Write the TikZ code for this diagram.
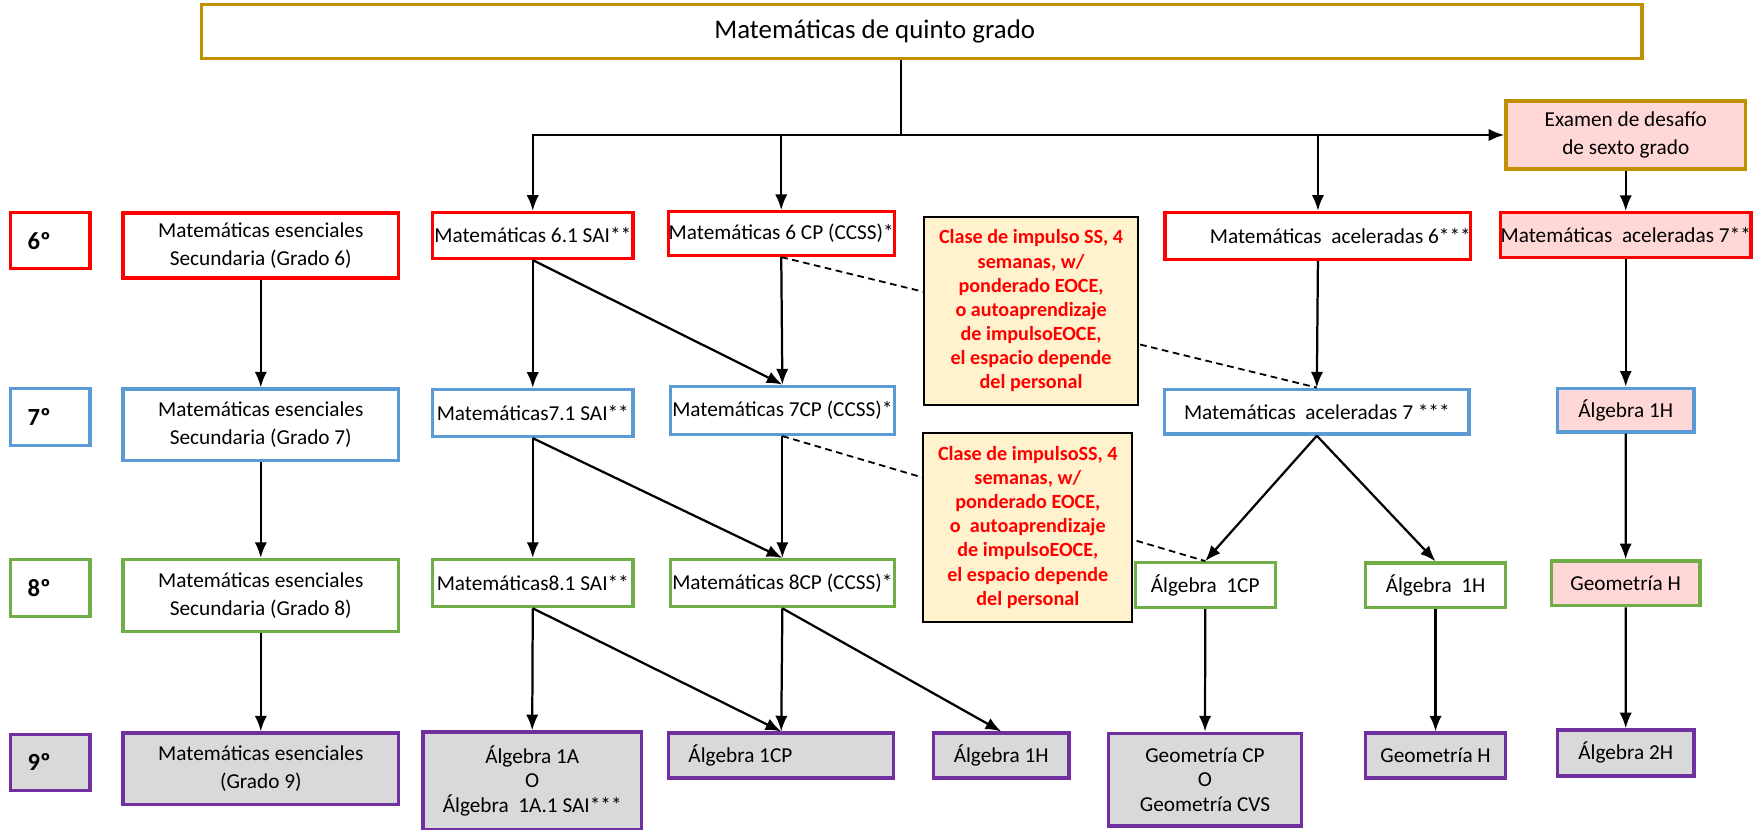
\documentclass[tikz,border=0pt]{standalone}
\usepackage{fontspec}
\setmainfont{Carlito}
\usetikzlibrary{arrows.meta}
\definecolor{oro}{HTML}{BF9000}
\definecolor{rojo}{HTML}{FF0000}
\definecolor{azul}{HTML}{5B9BD5}
\definecolor{verde}{HTML}{70AD47}
\definecolor{morado}{HTML}{7030A0}
\definecolor{rosa}{HTML}{FFD7D7}
\definecolor{gris}{HTML}{D9D9D9}
\definecolor{crema}{HTML}{FFF2CC}

\begin{document}
\begin{tikzpicture}[x=1pt, y=-1pt,
  caja/.style={draw, line width=3pt, fill=white, inner sep=0pt, align=center, font=\fontsize{19}{22}\selectfont},
  doble/.style={font=\fontsize{19}{25}\selectfont},
  fila/.style={draw, line width=3pt, inner sep=0pt, minimum width=71pt, font=\bfseries\fontsize{22}{26}\selectfont},
  nota/.style={draw, line width=1.8pt, fill=crema, text=rojo, inner sep=0pt, align=center, font=\bfseries\fontsize{18}{21.6}\selectfont},
  flecha/.style={line width=2pt, -{Latex[length=14pt, width=11pt]}},
  guiones/.style={line width=1.6pt, dash pattern=on 6pt off 4pt}]
\useasboundingbox (0,0) rectangle (1568,741);

\node[caja, draw=oro, minimum width=1287pt, minimum height=48pt, font=\fontsize{24}{28}\selectfont] (titulo) at (823.5,28) {Matemáticas de quinto grado\hspace*{84pt}};
\node[caja, doble, draw=oro, fill=rosa, minimum width=214pt, minimum height=61pt] (examen) at (1452.5,120.6) {Examen de desafío\\de sexto grado};

\foreach \g/\c/\f/\y/\h in {6/rojo/white/215/50, 7/azul/white/372.7/51, 8/verde/white/525.5/51, 9/morado/gris/681/50}
  \node[fila, draw=\c, fill=\f, minimum height=\h pt] (g\g) at (45,\y) {\g º\hspace*{20pt}};

\node[caja, doble, draw=rojo, minimum width=246pt, minimum height=58pt] (ese6) at (233,219.3) {Matemáticas esenciales\\Secundaria (Grado 6)};
\node[caja, draw=rojo, minimum width=179pt, minimum height=41pt] (m61) at (476,210.4) {Matemáticas 6.1 SAI**};
\node[caja, draw=rojo, minimum width=202pt, minimum height=39pt] (m6cp) at (698,208.7) {Matemáticas 6 CP (CCSS)*};
\node[caja, draw=rojo, minimum width=271pt, minimum height=42pt] (acel6) at (1177.5,210.8) {\hspace*{40pt}Matemáticas~~aceleradas 6***};
\node[caja, draw=rojo, fill=rosa, minimum width=214pt, minimum height=40pt] (acel7h) at (1452.5,210) {Matemáticas~~aceleradas 7**};

\node[caja, doble, draw=azul, minimum width=246pt, minimum height=64pt] (ese7) at (233,379.7) {Matemáticas esenciales\\Secundaria (Grado 7)};
\node[caja, draw=azul, minimum width=179pt, minimum height=42pt] (m71) at (476,369) {Matemáticas7.1 SAI**};
\node[caja, draw=azul, minimum width=200pt, minimum height=43pt] (m7cp) at (699,366.6) {Matemáticas 7CP (CCSS)*};
\node[caja, draw=azul, minimum width=272pt, minimum height=40pt] (acel7) at (1176.5,367.8) {Matemáticas~~aceleradas 7 ***};
\node[caja, draw=azul, fill=rosa, minimum width=122pt, minimum height=39pt] (alg1hr) at (1452.5,366.5) {Álgebra 1H};

\node[caja, doble, draw=verde, minimum width=246pt, minimum height=64pt] (ese8) at (233,532) {Matemáticas esenciales\\Secundaria (Grado 8)};
\node[caja, draw=verde, minimum width=179pt, minimum height=42pt] (m81) at (476,521) {Matemáticas8.1 SAI**};
\node[caja, draw=verde, minimum width=200pt, minimum height=42pt] (m8cp) at (699,521) {Matemáticas 8CP (CCSS)*};
\node[caja, draw=verde, minimum width=125pt, minimum height=40pt] (alg1cp8) at (1076.8,522.8) {Álgebra~~1CP};
\node[caja, draw=verde, minimum width=125pt, minimum height=40pt] (alg1h8) at (1282.6,523) {Álgebra~~1H};
\node[caja, draw=verde, fill=rosa, minimum width=133pt, minimum height=40pt] (geohr) at (1452.4,521.2) {Geometría H};

\node[caja, doble, draw=morado, fill=gris, minimum width=246pt, minimum height=64pt] (ese9) at (233,687) {Matemáticas esenciales\\(Grado 9)};
\node[caja, draw=morado, fill=gris, minimum width=195pt, minimum height=87pt] (alg1a) at (475.5,697.5) {Álgebra 1A\\O\\Álgebra~~1A.1 SAI***};
\node[caja, draw=morado, fill=gris, minimum width=201pt, minimum height=40pt] (alg1cp9) at (698,675) {Álgebra 1CP\hspace*{73pt}};
\node[caja, draw=morado, fill=gris, minimum width=121pt, minimum height=40pt] (alg1h9) at (894.5,675) {Álgebra 1H};
\node[caja, draw=morado, fill=gris, minimum width=172pt, minimum height=83pt] (geocp) at (1076.6,696.6) {Geometría CP\\O\\Geometría CVS};
\node[caja, draw=morado, fill=gris, minimum width=125pt, minimum height=40pt] (geoh9) at (1282.6,675) {Geometría H};
\node[caja, draw=morado, fill=gris, minimum width=122pt, minimum height=41pt] (alg2h) at (1452.5,672.7) {Álgebra 2H};

\coordinate (rama) at (805,120.6);
\draw[line width=2pt] (titulo.south -| rama) -- (rama);
\draw[line width=2pt, {Latex[length=14pt, width=11pt]}-{Latex[length=14pt, width=11pt]}] (m61.north) -- (m61.north |- rama) -- (examen.west);
\draw[flecha] (m6cp.north |- rama) -- (m6cp.north);
\draw[flecha] (acel6.north |- rama) -- (acel6.north);
\draw[flecha] (examen) -- (acel7h);

\draw[flecha] (ese6) -- (ese7);
\draw[flecha] (ese7) -- (ese8);
\draw[flecha] (ese8) -- (ese9);
\draw[flecha] (m61) -- (m71);
\draw[flecha] (m61.south) -- (m7cp.north);
\draw[flecha] (m6cp.south) -- (m7cp.north);
\draw[flecha] (m71) -- (m81);
\draw[flecha] (m71.south) -- (m8cp.north);
\draw[flecha] (m7cp.south) -- (m8cp.north);
\draw[flecha] (m81.south) -- (alg1a.north);
\draw[flecha] (m81.south) -- (alg1cp9.north);
\draw[flecha] (m8cp.south) -- (alg1cp9.north);
\draw[flecha] (m8cp.south) -- (alg1h9.north);
\draw[flecha] (acel6.south) -- (acel7.north);
\draw[flecha] (acel7.south) -- (alg1cp8.north);
\draw[flecha] (acel7.south) -- (alg1h8.north);
\draw[flecha] (alg1cp8) -- (geocp);
\draw[flecha] (alg1h8) -- (geoh9);
\draw[flecha] (acel7h) -- (alg1hr);
\draw[flecha] (alg1hr) -- (geohr);
\draw[flecha] (geohr) -- (alg2h);

\draw[guiones] (m6cp.south) -- (acel7.north);
\draw[guiones] (m7cp.south) -- (alg1cp8.north);

\node[nota, minimum width=191pt, minimum height=168pt] (nota1) at (921.2,277.8) {Clase de impulso SS, 4\\semanas, w/\\ponderado EOCE,\\o autoaprendizaje\\de impulsoEOCE,\\el espacio depende\\del personal};
\node[nota, minimum width=187pt, minimum height=169pt] (nota2) at (918.3,471) {Clase de impulsoSS, 4\\semanas, w/\\ponderado EOCE,\\o~~autoaprendizaje\\de impulsoEOCE,\\el espacio depende\\del personal};
\end{tikzpicture}
\end{document}
